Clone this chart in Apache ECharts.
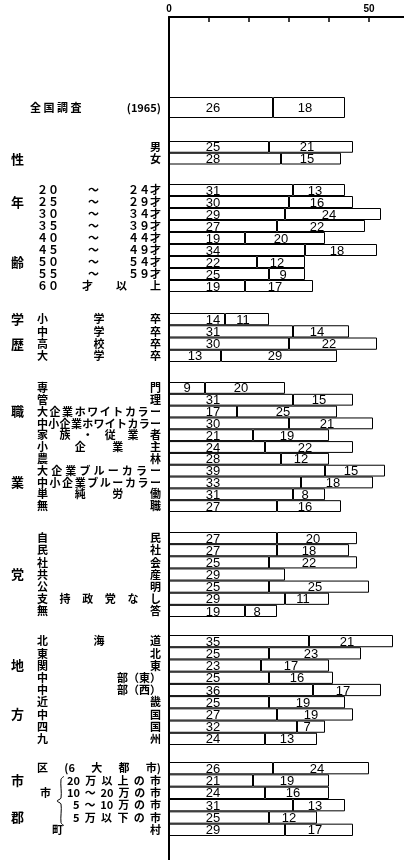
<!DOCTYPE html>
<html><head><meta charset="utf-8">
<script src="https://cdn.jsdelivr.net/npm/echarts@6/dist/echarts.min.js"></script>
<style>html,body{margin:0;padding:0;background:#fff}#c{width:404px;height:860px}</style>
</head><body><div id="c"></div>
<script>
// ---------- data ----------
// '|' separates pieces that are spread across the label column; otherwise every character is spread
const catNational = ['全 国 調 査|(1965)'];
const valNationalA = [26];
const valNationalB = [18];
const grpNational = [''];

const catSex = ['男', '女'];
const valSexA = [25, 28];
const valSexB = [21, 15];
const grpSex = ['', '性'];

const catAge = ['２０|～|２４才', '２５|～|２９才', '３０|～|３４才', '３５|～|３９才', '４０|～|４４才',
                '４５|～|４９才', '５０|～|５４才', '５５|～|５９才', '６０|才|以|上'];
const valAgeA = [31, 30, 29, 27, 19, 34, 22, 25, 19];
const valAgeB = [13, 16, 24, 22, 20, 18, 12, 9, 17];
const grpAge = ['', '年', '', '', '', '', '齢', '', ''];

const catEdu = ['小学卒', '中学卒', '高校卒', '大学卒'];
const valEduA = [14, 31, 30, 13];
const valEduB = [11, 14, 22, 29];
const grpEdu = ['学', '', '歴', ''];

const catJob = ['専門', '管理', '大企業ホワイトカラー', '中小企業ホワイトカラー', '家族・従業者', '小企業主',
                '農林', '大企業ブルーカラー', '中小企業ブルーカラー', '単純労働', '無職'];
const valJobA = [9, 31, 17, 30, 21, 24, 28, 39, 33, 31, 27];
const valJobB = [20, 15, 25, 21, 19, 22, 12, 15, 18, 8, 16];
const grpJob = ['', '', '職', '', '', '', '', '', '業', '', ''];

const catParty = ['自民', '民社', '社会', '共産', '公明', '支持政党なし', '無答'];
const valPartyA = [27, 27, 25, 29, 25, 29, 19];
const valPartyB = [20, 18, 22, null, 25, 11, 8];
const grpParty = ['', '', '', '党', '', '', ''];

const catRegion = ['北海道', '東北', '関東', '中|部（東）', '中|部（西）', '近畿', '中国', '四国', '九州'];
const valRegionA = [35, 25, 23, 25, 36, 25, 27, 32, 24];
const valRegionB = [21, 23, 17, 16, 17, 19, 19, 7, 13];
const grpRegion = ['', '', '地', '', '', '', '方', '', ''];

const catCity = ['区|(6|大|都|市)', '20|万|以|上|の|市', '10|～|20|万|の|市', '5|～|10|万|の|市', '5|万|以|下|の|市', '町|村'];
const valCityA = [26, 21, 24, 31, 25, 29];
const valCityB = [24, 19, 16, 13, 12, 17];
const grpCity = ['', '市', '', '', '郡', ''];
const subCity = ['', '', '市', '', '', ''];

const xTickValues = [10, 20, 30, 40, 50];
const xLabelValues = [0, 50];

// ---------- layout ----------
const AX = 169, PX = 4, XMAX = (404 - AX) / PX;
const LABEL_R = AX - 8;
const GRP_X = 11, SUB_X = 40;
const FONT = '"Noto Sans CJK JP"';
const ITEM_SIZE = 11, GRP_SIZE = 13, ITEM_WEIGHT = 'bold';
const groups = [
  {cat: catNational, a: valNationalA, b: valNationalB, grp: grpNational, top: 97, height: 21, left: 30},
  {cat: catSex, a: valSexA, b: valSexB, grp: grpSex, top: 141, height: 23.5},
  {cat: catAge, a: valAgeA, b: valAgeB, grp: grpAge, top: 184, height: 108},
  {cat: catEdu, a: valEduA, b: valEduB, grp: grpEdu, top: 313, height: 49},
  {cat: catJob, a: valJobA, b: valJobB, grp: grpJob, top: 382, height: 130},
  {cat: catParty, a: valPartyA, b: valPartyB, grp: grpParty, top: 532, height: 85},
  {cat: catRegion, a: valRegionA, b: valRegionB, grp: grpRegion, top: 635, height: 110},
  {cat: catCity, a: valCityA, b: valCityB, grp: grpCity, sub: subCity, top: 762, height: 74,
   lefts: [37, 67, 67, 73, 73, 52]}
];

const ctx = document.createElement('canvas').getContext('2d');
const tw = (s, size, weight) => { ctx.font = (weight || 'normal') + ' ' + size + 'px ' + FONT; return ctx.measureText(s).width; };

function buildLabel(text, gi, ri, left, grpChar, subChar, rich) {
  const pieces = text.indexOf('|') >= 0 ? text.split('|') : Array.from(text);
  const key = gi + '_' + ri;
  let out = '';
  let start;
  if (pieces.length === 1) {
    start = LABEL_R - tw(pieces[0], ITEM_SIZE, ITEM_WEIGHT);
    out = '{p|' + pieces[0] + '}';
  } else {
    start = left;
    const W = LABEL_R - left;
    const sum = pieces.reduce((s, p) => s + tw(p, ITEM_SIZE, ITEM_WEIGHT), 0);
    const gap = Math.max(0, (W - sum) / (pieces.length - 1));
    rich['s' + key] = {width: gap, fontSize: ITEM_SIZE, fontFamily: FONT};
    out = pieces.map(p => '{p|' + p + '}').join('{s' + key + '| }');
  }
  let cur = start;
  if (subChar) {
    const x0 = SUB_X, w = tw(subChar, ITEM_SIZE, ITEM_WEIGHT);
    rich['u' + key] = {width: Math.max(0, cur - x0 - w), fontSize: ITEM_SIZE, fontFamily: FONT};
    out = '{p|' + subChar + '}{u' + key + '| }' + out;
    cur = x0;
  }
  if (grpChar) {
    const w = tw(grpChar, GRP_SIZE, 'bold');
    rich['v' + key] = {width: Math.max(0, cur - GRP_X - w), fontSize: ITEM_SIZE, fontFamily: FONT};
    out = '{g|' + grpChar + '}{v' + key + '| }' + out;
  }
  return out;
}

const grids = [{left: AX, right: 0, top: 17, bottom: 0, outerBoundsMode: 'none'}];
const xAxes = [{
  gridIndex: 0, type: 'value', position: 'top', min: 0, max: XMAX,
  axisLine: {show: true, onZero: false, lineStyle: {color: '#000', width: 2}},
  axisTick: {show: true, inside: true, length: 5, customValues: xTickValues, lineStyle: {color: '#000', width: 1.5}},
  axisLabel: {show: true, customValues: xLabelValues, margin: 3, fontSize: 10, fontWeight: 'bold',
              fontFamily: 'Liberation Sans', color: '#000'},
  splitLine: {show: false}
}];
const yAxes = [{
  gridIndex: 0, type: 'value', min: 0, max: 1, z: 5,
  axisLine: {show: true, onZero: false, lineStyle: {color: '#000', width: 2}},
  axisTick: {show: false}, axisLabel: {show: false}, splitLine: {show: false}
}];
const series = [];

const labelBase = {show: true, fontSize: 13, fontFamily: 'Liberation Sans', color: '#000',
                   align: 'center', verticalAlign: 'middle'};
const barStyle = {color: '#fff', borderColor: '#000', borderWidth: 1};

groups.forEach((g, gi) => {
  const gridIndex = gi + 1;
  grids.push({left: AX, right: 0, top: g.top, height: g.height, outerBoundsMode: 'none'});
  xAxes.push({gridIndex, type: 'value', min: 0, max: XMAX, show: false});
  const rich = {
    p: {fontSize: ITEM_SIZE, fontFamily: FONT, fontWeight: ITEM_WEIGHT, color: '#000'},
    g: {fontSize: GRP_SIZE, fontFamily: FONT, fontWeight: 'bold', color: '#000'}
  };
  const texts = g.cat.map((c, ri) => buildLabel(c, gi, ri, g.lefts ? g.lefts[ri] : (g.left || 37),
                                                 g.grp[ri], g.sub ? g.sub[ri] : '', rich));
  const itemAxis = yAxes.length;
  yAxes.push({
    gridIndex, type: 'category', inverse: true, data: g.cat,
    axisLine: {show: false}, axisTick: {show: false}, splitLine: {show: false},
    axisLabel: {interval: 0, margin: 8, formatter: (v, i) => texts[i], rich}
  });
  series.push({
    type: 'bar', xAxisIndex: gridIndex, yAxisIndex: itemAxis, stack: 'g' + gi, barWidth: '100%',
    itemStyle: barStyle, silent: true,
    label: Object.assign({}, labelBase, {offset: [0, 1]}),
    data: g.a.map(v => ({value: v, label: {position: v >= 14 ? [44, '50%'] : 'inside'}}))
  });
  series.push({
    type: 'bar', xAxisIndex: gridIndex, yAxisIndex: itemAxis, stack: 'g' + gi, barWidth: '100%',
    itemStyle: barStyle, silent: true,
    label: Object.assign({}, labelBase, {position: 'inside', offset: [-4, 1]}),
    data: g.b
  });
});

// brace in front of the city-size rows
const city = groups[groups.length - 1];
const pitch = city.height / city.cat.length;
const by0 = city.top + pitch * 1 + 2, by1 = city.top + pitch * 5 + 2, bm = (by0 + by1) / 2;

const chart = echarts.init(document.getElementById('c'), null, {renderer: 'canvas'});
chart.setOption({
  animation: false,
  backgroundColor: '#fff',
  grid: grids, xAxis: xAxes, yAxis: yAxes, series,
  graphic: [{
    type: 'polyline', silent: true,
    shape: {points: [[64, by0], [61, by0 + 3], [61, bm - 3], [57, bm], [61, bm + 3], [61, by1 - 3], [64, by1]], smooth: 0.3},
    style: {stroke: '#000', lineWidth: 1, fill: null}
  }]
});
</script>
</body></html>
